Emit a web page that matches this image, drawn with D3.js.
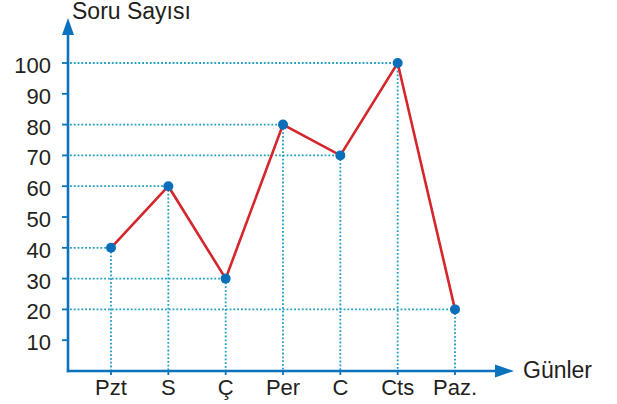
<!DOCTYPE html>
<html><head><meta charset="utf-8">
<script src="https://cdn.jsdelivr.net/npm/d3@7"></script>
<style>
html,body{margin:0;padding:0;background:#fff;}
svg{display:block;}
text{font-family:"Liberation Sans",Arial,Helvetica,sans-serif;fill:#231f20;}
</style></head>
<body>
<svg id="chart" width="617" height="404"></svg>
<script>
const days = ["Pzt","S","Ç","Per","C","Cts","Paz."];
const questions = [40,60,30,80,70,100,20];
const yTicks = [10,20,30,40,50,60,70,80,90,100];
const yTitle = "Soru Sayısı";
const xTitle = "Günler";

const svg = d3.select("#chart");
const axisColor = "#0b72bb";
const gridColor = "#1f9ec0";
const lineColor = "#d4262b";
const pointColor = "#0a6fb8";

const x = d3.scalePoint().domain(days).range([111, 455]);
const y = d3.scaleLinear().domain([0,100]).range([371, 63]);
const x0 = 68, yAxisY = y(0);

const data = days.map((d,i)=>({day:d, v:questions[i]}));

// dotted guides
const g = svg.append("g").attr("stroke", gridColor).attr("stroke-width",1.8)
  .attr("stroke-dasharray","1.8,2").attr("fill","none");
data.forEach(d=>{
  g.append("line").attr("x1",x0+2).attr("x2",x(d.day)).attr("y1",y(d.v)).attr("y2",y(d.v));
  g.append("line").attr("x1",x(d.day)).attr("x2",x(d.day)).attr("y1",y(d.v)).attr("y2",yAxisY);
});

// axes
const ax = svg.append("g");
ax.append("line").attr("x1",x0).attr("x2",x0).attr("y1",yAxisY+1.2).attr("y2",32)
  .attr("stroke",axisColor).attr("stroke-width",2.6);
ax.append("path").attr("d",`M${x0},18 L${x0-6},35 L${x0+6},35 Z`).attr("fill",axisColor);
ax.append("line").attr("x1",x0-1.2).attr("x2",498).attr("y1",yAxisY).attr("y2",yAxisY)
  .attr("stroke",axisColor).attr("stroke-width",2.6);
ax.append("path").attr("d",`M514,${yAxisY} L495,${yAxisY-6.5} L495,${yAxisY+6.5} Z`).attr("fill",axisColor);

// y ticks
yTicks.forEach(t=>{
  ax.append("line").attr("x1",x0-6).attr("x2",x0).attr("y1",y(t)).attr("y2",y(t))
    .attr("stroke",axisColor).attr("stroke-width",1.8);
  ax.append("text").attr("x",51).attr("y",y(t)+10).attr("text-anchor","end")
    .attr("font-size",22).text(t);
});
// x ticks
days.forEach(d=>{
  ax.append("line").attr("x1",x(d)).attr("x2",x(d)).attr("y1",yAxisY).attr("y2",yAxisY+4)
    .attr("stroke",axisColor).attr("stroke-width",1.8);
  ax.append("text").attr("x",x(d)).attr("y",395).attr("text-anchor","middle")
    .attr("font-size",22).text(d);
});

svg.append("text").attr("x",72).attr("y",19).attr("font-size",23).text(yTitle);
svg.append("text").attr("x",523).attr("y",378).attr("font-size",23).text(xTitle);

// line
svg.append("path").datum(data)
  .attr("d", d3.line().x(d=>x(d.day)).y(d=>y(d.v)))
  .attr("fill","none").attr("stroke",lineColor).attr("stroke-width",2.6)
  .attr("stroke-linejoin","miter");

svg.append("g").selectAll("circle").data(data).join("circle")
  .attr("cx",d=>x(d.day)).attr("cy",d=>y(d.v)).attr("r",5).attr("fill",pointColor);
</script>
</body></html>
